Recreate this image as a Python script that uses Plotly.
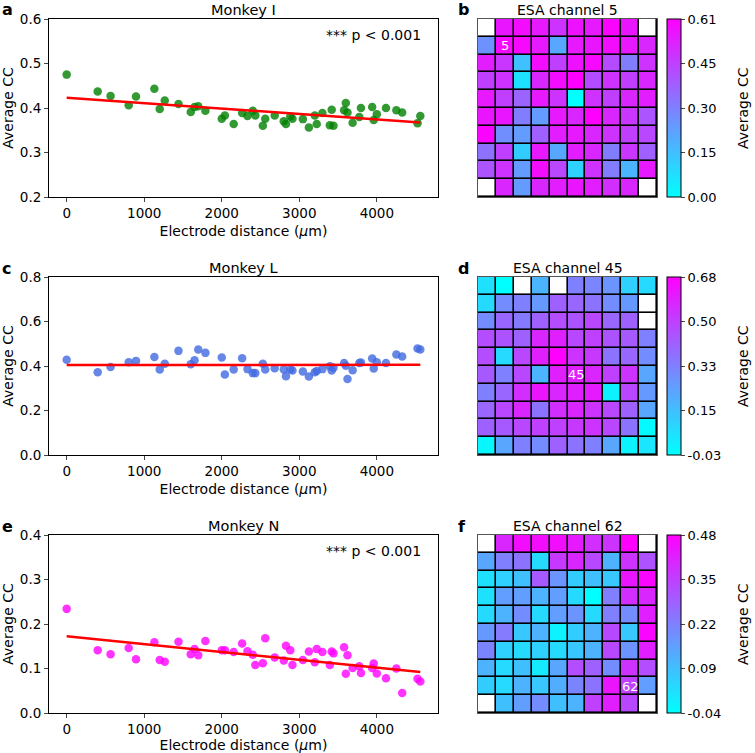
import numpy as np
import plotly.graph_objects as go

# ---------------- data ----------------
distance = [0, 400, 566, 800, 894, 1131, 1200, 1265, 1442, 1600,
            1649, 1697, 1789, 2000, 2040, 2154, 2263, 2332, 2400, 2433,
            2530, 2561, 2683, 2800, 2828, 2884, 2912, 3046, 3124, 3200,
            3225, 3298, 3394, 3418, 3441, 3578, 3600, 3622, 3688, 3774,
            3795, 3940, 3960, 4000, 4118, 4252, 4327, 4525, 4561]

cc_monkey_I = [0.475, 0.437, 0.427, 0.406, 0.426, 0.443, 0.398, 0.417, 0.409, 0.391,
               0.402, 0.404, 0.394, 0.376, 0.383, 0.364, 0.389, 0.382, 0.394, 0.383,
               0.360, 0.376, 0.383, 0.370, 0.364, 0.381, 0.376, 0.375, 0.356, 0.383,
               0.364, 0.389, 0.361, 0.396, 0.360, 0.395, 0.411, 0.390, 0.367, 0.380,
               0.400, 0.402, 0.373, 0.386, 0.400, 0.395, 0.390, 0.366, 0.382]

cc_monkey_L = [0.428, 0.372, 0.396, 0.417, 0.423, 0.440, 0.384, 0.410, 0.468, 0.408,
               0.426, 0.474, 0.459, 0.438, 0.362, 0.384, 0.435, 0.386, 0.368, 0.368,
               0.410, 0.384, 0.390, 0.384, 0.354, 0.384, 0.380, 0.375, 0.353, 0.372,
               0.378, 0.386, 0.399, 0.380, 0.392, 0.413, 0.401, 0.342, 0.381, 0.413,
               0.416, 0.434, 0.389, 0.417, 0.413, 0.452, 0.443, 0.479, 0.474]

cc_monkey_N = [0.234, 0.141, 0.132, 0.146, 0.121, 0.159, 0.119, 0.115, 0.160, 0.132,
               0.144, 0.130, 0.162, 0.141, 0.141, 0.137, 0.156, 0.139, 0.131, 0.108,
               0.112, 0.168, 0.125, 0.118, 0.151, 0.141, 0.108, 0.119, 0.138, 0.114,
               0.144, 0.137, 0.108, 0.138, 0.134, 0.148, 0.088, 0.130, 0.101, 0.105,
               0.090, 0.101, 0.111, 0.089, 0.078, 0.100, 0.045, 0.077, 0.071]

n = np.nan
esa_ch5 = [
    [n, 0.56, 0.58, 0.55, 0.49, 0.57, 0.55, 0.60, 0.56, n],
    [0.26, 0.59, 0.59, 0.55, 0.21, 0.55, 0.56, 0.58, 0.55, 0.52],
    [0.54, 0.48, 0.15, 0.58, 0.46, 0.57, 0.59, 0.43, 0.31, 0.49],
    [0.46, 0.49, 0.07, 0.52, 0.58, 0.61, 0.43, 0.49, 0.46, 0.52],
    [0.55, 0.46, 0.37, 0.55, 0.49, 0.00, 0.49, 0.46, 0.52, 0.54],
    [0.56, 0.56, 0.31, 0.24, 0.55, 0.52, 0.61, 0.52, 0.48, 0.41],
    [0.60, 0.27, 0.24, 0.38, 0.54, 0.55, 0.52, 0.49, 0.46, 0.44],
    [0.34, 0.46, 0.12, 0.55, 0.21, 0.54, 0.52, 0.31, 0.48, 0.38],
    [0.41, 0.49, 0.24, 0.58, 0.44, 0.11, 0.49, 0.31, 0.18, 0.55],
    [n, 0.52, 0.24, 0.52, 0.54, 0.56, 0.54, 0.50, 0.52, n],
]
esa_ch45 = [
    [0.055, -0.03, n, 0.183, n, 0.325, 0.311, 0.268, 0.098, 0.077],
    [0.077, 0.290, 0.325, 0.254, 0.410, 0.396, 0.360, 0.290, 0.254, n],
    [0.290, 0.396, 0.339, 0.410, 0.467, 0.453, 0.481, 0.396, 0.410, n],
    [0.467, 0.453, 0.410, 0.574, 0.595, 0.481, 0.503, 0.453, 0.432, 0.325],
    [0.467, 0.077, 0.481, 0.595, 0.680, 0.538, 0.524, 0.360, 0.396, 0.290],
    [0.432, 0.325, 0.481, 0.183, 0.595, 0.595, 0.574, 0.503, 0.538, 0.219],
    [0.325, 0.396, 0.552, 0.623, 0.574, 0.595, 0.609, 0.006, 0.481, 0.254],
    [0.396, 0.481, 0.574, 0.360, 0.552, 0.574, 0.538, 0.481, 0.410, 0.219],
    [0.410, 0.432, 0.481, 0.503, 0.503, 0.524, 0.538, 0.481, 0.360, -0.016],
    [-0.009, 0.219, 0.325, 0.290, 0.410, 0.360, 0.325, 0.219, 0.006, 0.041],
]
esa_ch62 = [
    [n, 0.402, 0.454, 0.454, 0.454, 0.428, 0.386, 0.376, 0.480, n],
    [0.142, 0.220, 0.246, 0.038, 0.366, 0.402, 0.334, 0.116, 0.376, 0.314],
    [0.022, 0.054, 0.090, 0.298, 0.178, 0.064, 0.090, 0.074, 0.438, 0.470],
    [0.022, 0.158, 0.158, 0.116, 0.158, 0.038, -0.040, 0.220, 0.386, 0.402],
    [0.038, 0.116, 0.194, 0.038, 0.158, 0.178, 0.038, 0.220, 0.194, 0.418],
    [0.168, 0.230, 0.074, 0.116, -0.014, 0.064, 0.116, 0.334, 0.074, 0.470],
    [0.210, 0.054, 0.038, 0.054, 0.038, 0.074, 0.116, 0.334, 0.178, 0.418],
    [0.116, 0.038, 0.090, 0.002, 0.142, 0.324, 0.282, 0.194, 0.376, 0.324],
    [0.064, 0.038, 0.116, 0.074, 0.126, 0.210, 0.246, 0.438, 0.350, 0.158],
    [n, 0.090, 0.158, 0.194, 0.090, 0.116, 0.350, 0.418, 0.334, n],
]

monkey_names = ["Monkey I", "Monkey L", "Monkey N"]
esa_channels = [5, 45, 62]
esa_channel_cell = [(1, 1), (5, 5), (8, 8)]   # (row, col) of labelled channel
cbar_ranges = [(0.00, 0.61), (-0.03, 0.68), (-0.04, 0.48)]
cbar_tick_labels = [
    ["0.00", "0.15", "0.30", "0.45", "0.61"],
    ["-0.03", "0.15", "0.33", "0.50", "0.68"],
    ["-0.04", "0.09", "0.22", "0.35", "0.48"],
]
y_ranges = [(0.2, 0.6), (0.0, 0.8), (0.0, 0.4)]
y_dticks = [0.1, 0.2, 0.1]
significance = ["*** p < 0.001", None, "*** p < 0.001"]
panel_letters = [("a", "b"), ("c", "d"), ("e", "f")]
x_ticks = [0, 1000, 2000, 3000, 4000]

# ---------------- styling ----------------
W, H = 755, 753
FONT = "DejaVu Sans"
marker_colors = ["green", "royalblue", "magenta"]
cool = [[0, "#00ffff"], [1, "#ff00ff"]]

# pixel layout
sc_x = (49, 438)
hm_x = (478, 657)
rows_y = [(19, 197), (277, 455), (535, 713)]
cb_left = 667
cb_thick = 14


def px(xp):
    return xp / W


def py(yp):
    return 1 - yp / H


fig = go.Figure()
layout = dict(
    width=W, height=H, autosize=False,
    margin=dict(l=0, r=0, t=0, b=0, autoexpand=False),
    paper_bgcolor="white", plot_bgcolor="white",
    showlegend=False,
    font=dict(family=FONT, size=13, color="black"),
)
annotations = []
shapes = []

series = [cc_monkey_I, cc_monkey_L, cc_monkey_N]
grids = [esa_ch5, esa_ch45, esa_ch62]

for i in range(3):
    top, bot = rows_y[i]
    sx = f"x{2*i+1}" if i > 0 else "x"
    sy = f"y{2*i+1}" if i > 0 else "y"
    hx = f"x{2*i+2}"
    hy = f"y{2*i+2}"
    sxn = "xaxis" + ("" if i == 0 else str(2*i+1))
    syn = "yaxis" + ("" if i == 0 else str(2*i+1))
    hxn = "xaxis" + str(2*i+2)
    hyn = "yaxis" + str(2*i+2)

    xs = np.array(distance, dtype=float)
    ys = np.array(series[i], dtype=float)

    # scatter
    fig.add_trace(go.Scatter(
        x=xs, y=ys, mode="markers", xaxis=sx, yaxis=sy,
        marker=dict(color=marker_colors[i], size=8.5, opacity=0.8, line=dict(width=0)),
    ))
    # regression line
    slope, intercept = np.polyfit(xs, ys, 1)
    xl = np.array([xs.min(), xs.max()])
    fig.add_trace(go.Scatter(
        x=xl, y=intercept + slope * xl, mode="lines", xaxis=sx, yaxis=sy,
        line=dict(color="red", width=2.5),
    ))

    span = xs.max() - xs.min()
    layout[sxn] = dict(
        domain=[px(sc_x[0]), px(sc_x[1])], anchor=sy, automargin=False,
        range=[xs.min() - 0.05 * span, xs.max() + 0.05 * span],
        tickvals=x_ticks, ticks="outside", ticklen=4, tickwidth=1,
        showline=True, linecolor="black", linewidth=1, mirror=True,
        showgrid=False, zeroline=False,
        tickfont=dict(size=13.5, family=FONT),
        title=dict(text="Electrode distance (<i>μ</i>m)", font=dict(size=14, family=FONT), standoff=5),
    )
    layout[syn] = dict(
        domain=[py(bot), py(top)], anchor=sx, automargin=False,
        range=list(y_ranges[i]), dtick=y_dticks[i], tick0=0, tickformat=".1f",
        ticks="outside", ticklen=4, tickwidth=1,
        showline=True, linecolor="black", linewidth=1, mirror=True,
        showgrid=False, zeroline=False,
        tickfont=dict(size=13.5, family=FONT),
        title=dict(text="Average CC", font=dict(size=14, family=FONT), standoff=7),
    )

    # titles
    annotations.append(dict(text=monkey_names[i], x=px((sc_x[0] + sc_x[1]) / 2), y=py(top - 9),
                            xref="paper", yref="paper", showarrow=False,
                            font=dict(size=14.5, family=FONT), xanchor="center", yanchor="middle"))
    annotations.append(dict(text=f"ESA channel {esa_channels[i]}", x=px((hm_x[0] + hm_x[1]) / 2),
                            y=py(top - 9), xref="paper", yref="paper", showarrow=False,
                            font=dict(size=14, family=FONT), xanchor="center", yanchor="middle"))
    # panel letters
    annotations.append(dict(text=f"<b>{panel_letters[i][0]}</b>", x=px(0), y=py(top - 9),
                            xref="paper", yref="paper", showarrow=False,
                            font=dict(size=16, family=FONT), xanchor="left", yanchor="middle"))
    annotations.append(dict(text=f"<b>{panel_letters[i][1]}</b>", x=px(456), y=py(top - 9),
                            xref="paper", yref="paper", showarrow=False,
                            font=dict(size=16, family=FONT), xanchor="left", yanchor="middle"))
    if significance[i]:
        annotations.append(dict(text=significance[i], x=px(423), y=py(top + 16),
                                xref="paper", yref="paper", showarrow=False,
                                font=dict(size=14, family=FONT), xanchor="right", yanchor="middle"))

    # heatmap
    z = np.array(grids[i], dtype=float)
    nrow, ncol = z.shape
    mask = np.where(np.isnan(z), 1.0, np.nan)
    shapes.append(dict(type="rect", xref=f"{hx} domain", yref=f"{hy} domain",
                       x0=0, x1=1, y0=0, y1=1, fillcolor="black", line=dict(width=0),
                       layer="below"))
    fig.add_trace(go.Heatmap(
        z=mask, xaxis=hx, yaxis=hy, colorscale=[[0, "white"], [1, "white"]],
        showscale=False, xgap=1.6, ygap=1.6, hoverinfo="skip",
    ))
    zmin, zmax = cbar_ranges[i]
    tv = np.linspace(zmin, zmax, len(cbar_tick_labels[i]))
    fig.add_trace(go.Heatmap(
        z=z, xaxis=hx, yaxis=hy, colorscale=cool, zmin=zmin, zmax=zmax,
        xgap=1.6, ygap=1.6,
        colorbar=dict(
            x=px(cb_left), xanchor="left", xpad=0,
            y=py((top + bot) / 2), yanchor="middle", ypad=0,
            len=(bot - top) / H, lenmode="fraction",
            thickness=cb_thick, thicknessmode="pixels",
            outlinewidth=1, outlinecolor="black",
            ticks="outside", ticklen=4, tickwidth=1,
            tickvals=tv, ticktext=cbar_tick_labels[i],
            tickfont=dict(size=13, family=FONT),
        ),
    ))
    layout[hxn] = dict(
        domain=[px(hm_x[0]), px(hm_x[1])], anchor=hy, automargin=False,
        range=[-0.5, ncol - 0.5], showticklabels=False, ticks="",
        showgrid=False, zeroline=False,
        showline=True, linecolor="#555555", linewidth=1.2, mirror=True,
    )
    layout[hyn] = dict(
        domain=[py(bot), py(top)], anchor=hx, automargin=False,
        range=[nrow - 0.5, -0.5], showticklabels=False, ticks="",
        showgrid=False, zeroline=False,
        showline=True, linecolor="#555555", linewidth=1.2, mirror=True,
    )
    r, c = esa_channel_cell[i]
    annotations.append(dict(text=str(esa_channels[i]), x=c, y=r, xref=hx, yref=hy,
                            showarrow=False, font=dict(size=13, color="white", family=FONT)))
    # colorbar title
    annotations.append(dict(text="Average CC", x=px(743), y=py((top + bot) / 2),
                            xref="paper", yref="paper", showarrow=False, textangle=-90,
                            font=dict(size=14, family=FONT), xanchor="center", yanchor="middle"))

layout["annotations"] = annotations
layout["shapes"] = shapes
fig.update_layout(**layout)
fig.write_html(
    "out.html",
    config={"displayModeBar": False},
    post_script="document.body.style.margin='0px';document.body.style.overflow='hidden';",
)
